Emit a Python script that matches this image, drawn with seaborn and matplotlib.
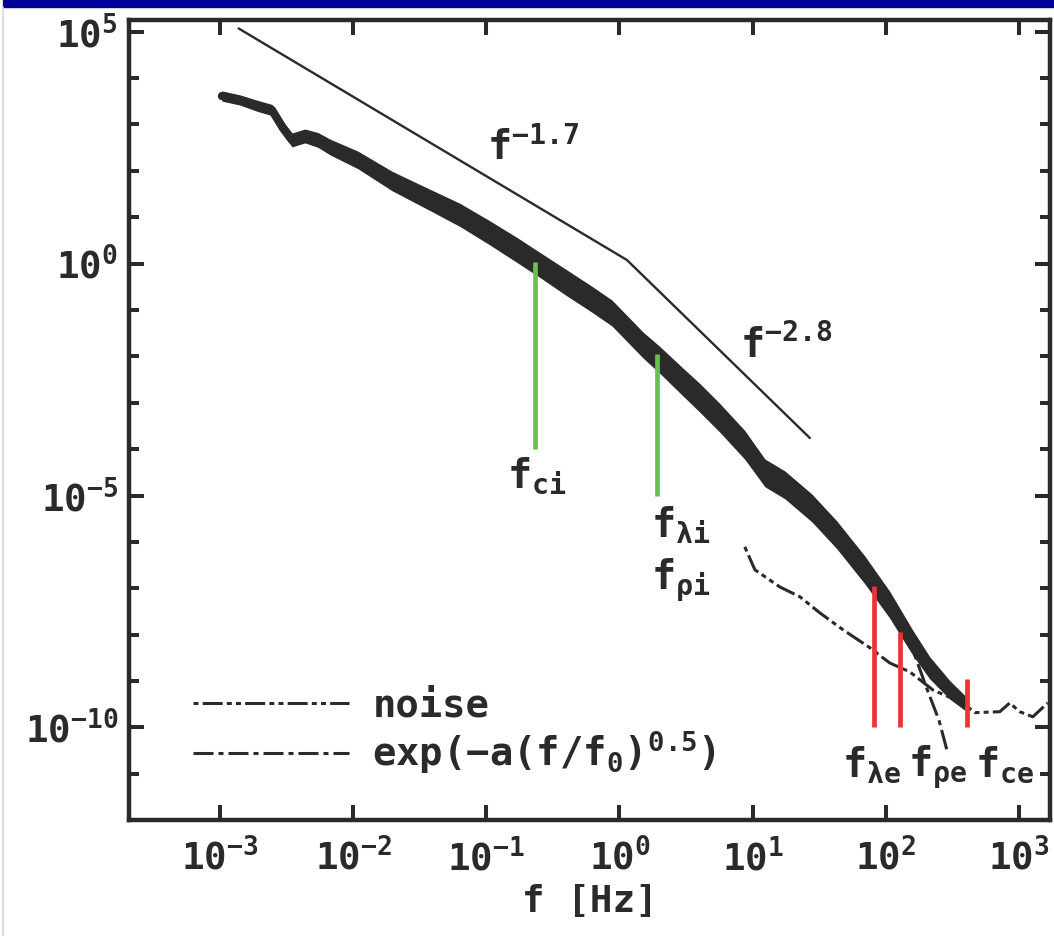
import numpy as np
import pandas as pd
import matplotlib
matplotlib.use("Agg")
import matplotlib.pyplot as plt
import seaborn as sns
from matplotlib import ticker
from matplotlib.lines import Line2D
from matplotlib.patches import Rectangle

# Magnetic power spectrum: log10 of frequency [Hz] and of power
spec_logf = [-2.985, -2.850, -2.715, -2.610, -2.527, -2.459, -2.362, -2.264, -2.174,
             -1.964, -1.709, -1.423, -1.198, -0.973, -0.770, -0.598, -0.395, -0.222,
             -0.057, 0.176, 0.303, 0.476, 0.604, 0.754, 0.941, 1.092, 1.242, 1.444,
             1.632, 1.842, 2.030, 2.203, 2.330, 2.480, 2.593]
spec_logp = [3.613, 3.527, 3.398, 3.312, 2.924, 2.666, 2.752, 2.666, 2.515,
             2.235, 1.783, 1.373, 1.050, 0.662, 0.295, -0.028, -0.416, -0.739,
             -1.063, -1.752, -2.076, -2.550, -2.895, -3.326, -3.908, -4.511, -4.770, -5.265,
             -5.847, -6.601, -7.356, -8.175, -8.714, -9.188, -9.468]
# scatter of the spectrum about its mean (half-width, decades)
spec_spread = [0.11, 0.11, 0.12, 0.12, 0.14, 0.15, 0.15, 0.16, 0.17,
               0.19, 0.21, 0.23, 0.25, 0.26, 0.27, 0.27, 0.28, 0.28,
               0.28, 0.28, 0.29, 0.30, 0.31, 0.31, 0.31, 0.30, 0.30, 0.30,
               0.30, 0.30, 0.29, 0.27, 0.24, 0.20, 0.16]

# Search-coil noise level
noise_logf = [0.941, 1.017, 1.204, 1.354, 1.505, 1.677, 1.880, 2.030, 2.180,
              2.353, 2.578, 2.668, 2.856, 2.931, 3.006, 3.104, 3.216]
noise_logp = [-6.106, -6.600, -6.970, -7.180, -7.530, -7.890, -8.280, -8.610, -8.800,
              -9.190, -9.470, -9.680, -9.660, -9.470, -9.660, -9.770, -9.470]

# Exponential fit at the smallest scales
fit_logf = [0.95, 1.30, 1.60, 1.85, 2.05, 2.20, 2.30, 2.40, 2.46]
fit_logp = [-3.95, -4.95, -5.80, -6.65, -7.40, -8.30, -9.10, -9.85, -10.50]

# Power-law guide (break near 1 Hz)
guide_logf = [-2.86, 0.056, 1.43]
guide_logp = [5.07, 0.078, -3.76]
guide_labels = [r"$\mathregular{f^{-1.7}}$", r"$\mathregular{f^{-2.8}}$"]

# Characteristic frequencies: position, top (spectrum) and bottom of each marker
char_logf = [-0.635, 0.281, 1.910, 2.110, 2.610]
char_top = [0.04, -1.95, -6.95, -7.94, -8.95]
char_bottom = [-4.0, -5.0, -10.0, -10.0, -10.0]
char_kind = ["ion", "ion", "electron", "electron", "electron"]
char_labels = [r"$\mathregular{f_{ci}}$", r"$\mathregular{f_{\lambda i}}$",
               r"$\mathregular{f_{\lambda e}}$", r"$\mathregular{f_{\rho e}}$",
               r"$\mathregular{f_{ce}}$"]
extra_label = r"$\mathregular{f_{\rho i}}$"

x_ticks_log = [-3, -2, -1, 0, 1, 2, 3]
y_ticks_log = [5, 0, -5, -10]

INK = "#2a2a2a"
GREEN = "#6dbf4d"
RED = "#ee3238"
MONO = "DejaVu Sans Mono"

sns.set_theme(style="ticks")
plt.rcParams.update({
    "font.family": [MONO],
    "font.weight": "bold",
    "axes.labelweight": "bold",
    "mathtext.fontset": "custom",
    "mathtext.rm": f"{MONO}:bold",
    "mathtext.it": f"{MONO}:bold",
    "mathtext.bf": f"{MONO}:bold",
    "mathtext.sf": f"{MONO}:bold",
    "mathtext.tt": f"{MONO}:bold",
    "lines.scale_dashes": False,
    "axes.linewidth": 3.2,
    "axes.edgecolor": INK,
    "text.color": INK,
    "xtick.color": INK,
    "ytick.color": INK,
    "axes.labelcolor": INK,
})

fig = plt.figure(figsize=(10.54, 9.36), dpi=100)
ax = fig.add_axes([0.1224, 0.1234, 0.8738, 0.8547])

spec = pd.DataFrame({"f": np.power(10.0, spec_logf), "P": np.power(10.0, spec_logp)})
noise = pd.DataFrame({"f": np.power(10.0, noise_logf), "P": np.power(10.0, noise_logp)})
fit = pd.DataFrame({"f": np.power(10.0, fit_logf), "P": np.power(10.0, fit_logp)})
guide = pd.DataFrame({"f": np.power(10.0, guide_logf), "P": np.power(10.0, guide_logp)})

# thin power-law guide
sns.lineplot(data=guide, x="f", y="P", ax=ax, color=INK, lw=1.7,
             sort=False, estimator=None, zorder=2)

# noise (dash-dot-dot) and exponential fit (dash-dot)
sns.lineplot(data=noise, x="f", y="P", ax=ax, color=INK, lw=2.2,
             sort=False, estimator=None, zorder=2)
noise_line = ax.lines[-1]
noise_line.set_dashes([3.6, 3.0, 14.4, 3.0, 3.6, 3.0])

sns.lineplot(data=fit, x="f", y="P", ax=ax, color=INK, lw=2.2,
             sort=False, estimator=None, zorder=2)
fit_line = ax.lines[-1]
fit_line.set_dashes([14.4, 3.6, 3.6, 3.6])

# measured spectrum: band of the scatter plus its mean
lo = np.power(10.0, np.array(spec_logp) - np.array(spec_spread))
hi = np.power(10.0, np.array(spec_logp) + np.array(spec_spread))
ax.fill_between(spec["f"], lo, hi, color=INK, lw=0, zorder=3)
sns.lineplot(data=spec, x="f", y="P", ax=ax, color=INK, lw=6,
             sort=False, estimator=None, zorder=3)

# characteristic frequency markers
for lf, top, bot, kind in zip(char_logf, char_top, char_bottom, char_kind):
    ax.vlines(10 ** lf, 10 ** bot, 10 ** top,
              colors=GREEN if kind == "ion" else RED, lw=3.4, zorder=4)

ax.set_xscale("log")
ax.set_yscale("log")
ax.set_xlim(10 ** -3.683, 10 ** 3.233)
ax.set_ylim(10 ** -12.005, 10 ** 5.241)

ax.xaxis.set_major_locator(ticker.FixedLocator([10.0 ** v for v in x_ticks_log]))
ax.xaxis.set_minor_locator(ticker.NullLocator())
ax.yaxis.set_major_locator(ticker.FixedLocator([10.0 ** v for v in y_ticks_log]))
ax.yaxis.set_minor_locator(ticker.FixedLocator([10.0 ** v for v in range(-12, 6)]))
ax.xaxis.set_major_formatter(ticker.LogFormatterSciNotation())
ax.yaxis.set_major_formatter(ticker.LogFormatterSciNotation())
ax.yaxis.set_minor_formatter(ticker.NullFormatter())

ax.tick_params(which="both", direction="in", top=True, right=True, width=2.9, color=INK)
ax.tick_params(which="major", length=10.8, labelsize=27)
ax.tick_params(which="minor", length=7.2)
ax.tick_params(axis="x", which="major", pad=13)
ax.tick_params(axis="y", which="major", pad=8)

ax.set_xlabel("f [Hz]", fontsize=27, labelpad=4)
ax.set_ylabel("")

# slope labels
ax.text(10 ** -0.995, 10 ** 2.235, guide_labels[0], fontsize=29)
ax.text(10 ** 0.904, 10 ** -2.03, guide_labels[1], fontsize=29)

# characteristic frequency labels
label_pos = [(-0.845, -4.83), (0.236, -5.91), (1.670, -11.06), (2.165, -11.06), (2.668, -11.06)]
for (lx, ly), lab in zip(label_pos, char_labels):
    ax.text(10 ** lx, 10 ** ly, lab, fontsize=29)
ax.text(10 ** 0.236, 10 ** -7.03, extra_label, fontsize=29)

# legend
leg = ax.legend([noise_line, fit_line],
                ["noise", r"$\mathregular{exp(-a(f/f_0)^{0.5})}$"],
                loc="lower left", bbox_to_anchor=(0.07, 0.055), frameon=False,
                fontsize=28, handlelength=4.0, handletextpad=0.6, labelspacing=0.1,
                borderpad=0, borderaxespad=0)

sns.despine(ax=ax, top=False, right=False)

# header band and left edge rule
fig.add_artist(Rectangle((3 / 1054, 1 - 7 / 936), 1, 7 / 936, transform=fig.transFigure,
                         color="#000099", zorder=10))
fig.add_artist(Line2D([3 / 1054, 3 / 1054], [0, 1 - 7 / 936], transform=fig.transFigure,
                      color="#d6d6e6", lw=1.2, zorder=10))

fig.savefig("out.png", dpi=100, facecolor="white")
